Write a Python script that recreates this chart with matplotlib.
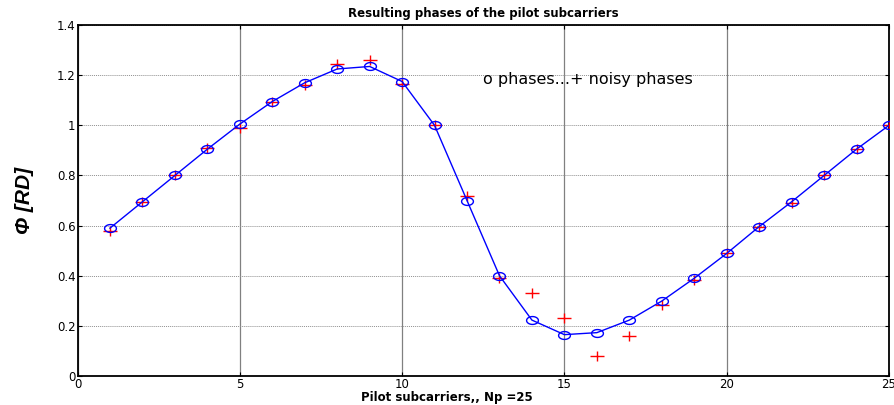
import numpy as np
import matplotlib
matplotlib.use("Agg")
import matplotlib.pyplot as plt
from matplotlib.path import Path

# pilot subcarrier index and phases (radians)
subcarriers = np.arange(1, 26)
phases = [0.590, 0.695, 0.800, 0.905, 1.005, 1.095, 1.170, 1.225, 1.235, 1.175,
          1.000, 0.700, 0.400, 0.223, 0.165, 0.173, 0.223, 0.299, 0.390, 0.489,
          0.596, 0.695, 0.800, 0.905, 1.000]
noisy_phases = [0.580, 0.695, 0.800, 0.910, 0.990, 1.095, 1.160, 1.245, 1.260, 1.165,
                1.000, 0.720, 0.390, 0.330, 0.231, 0.080, 0.160, 0.284, 0.383, 0.490,
                0.595, 0.690, 0.800, 0.905, 1.000]
xticks = [0, 5, 10, 15, 20, 25]
yticks = [0, 0.2, 0.4, 0.6, 0.8, 1.0, 1.2, 1.4]
ytick_labels = ["0", "0.2", "0.4", "0.6", "0.8", "1", "1.2", "1.4"]

# wide ellipse and wide plus markers
t = np.linspace(0, 2 * np.pi, 41)
ellipse = Path(np.column_stack([1.5 * np.cos(t), np.sin(t)]), closed=True)
wide_plus = Path([(-1.4, 0), (1.4, 0), (0, -1), (0, 1)],
                 [Path.MOVETO, Path.LINETO, Path.MOVETO, Path.LINETO])

fig = plt.figure(figsize=(8.94, 4.05), dpi=100)
ax = fig.add_axes([0.0867, 0.0716, 0.9077, 0.8664])

ax.plot(subcarriers, noisy_phases, linestyle="none", marker=wide_plus,
        markersize=10, markeredgecolor="red", markeredgewidth=1.0, zorder=3)
ax.plot(subcarriers, phases, color="blue", linewidth=1.0, marker=ellipse,
        markersize=8.5, markerfacecolor="none", markeredgecolor="blue",
        markeredgewidth=1.0, zorder=4)

ax.set_xlim(0, 25)
ax.set_ylim(0, 1.4)
ax.set_xticks(xticks)
ax.set_yticks(yticks)
ax.set_yticklabels(ytick_labels)
ax.tick_params(direction="in", length=3, width=0.8, labelsize=8.5,
               top=True, right=True, pad=1.5)
for lab in ax.get_xticklabels() + ax.get_yticklabels():
    lab.set_fontfamily("DejaVu Sans")

ax.xaxis.grid(True, color="#808080", linewidth=0.9)
ax.yaxis.grid(True, color="#909090", linewidth=0.7, linestyle=(0, (1, 1)))
ax.set_axisbelow(True)
for sp in ax.spines.values():
    sp.set_linewidth(1.3)
    sp.set_color("black")

ax.set_title("Resulting phases of the pilot subcarriers", fontsize=8.5,
             fontweight="bold", family="DejaVu Sans", pad=6)
fig.text(0.5, 0.003, "Pilot subcarriers,, Np =25", fontsize=8.5,
         fontweight="bold", family="DejaVu Sans", ha="center", va="bottom")
ax.set_ylabel("\u03a6 [RD]", fontsize=15, fontstyle="italic", fontweight="bold",
              family="Liberation Sans", labelpad=16)
ax.text(12.5, 1.165, "o phases...+ noisy phases", fontsize=11.5,
        family="DejaVu Sans", color="black")

fig.savefig("out.png", dpi=100)
